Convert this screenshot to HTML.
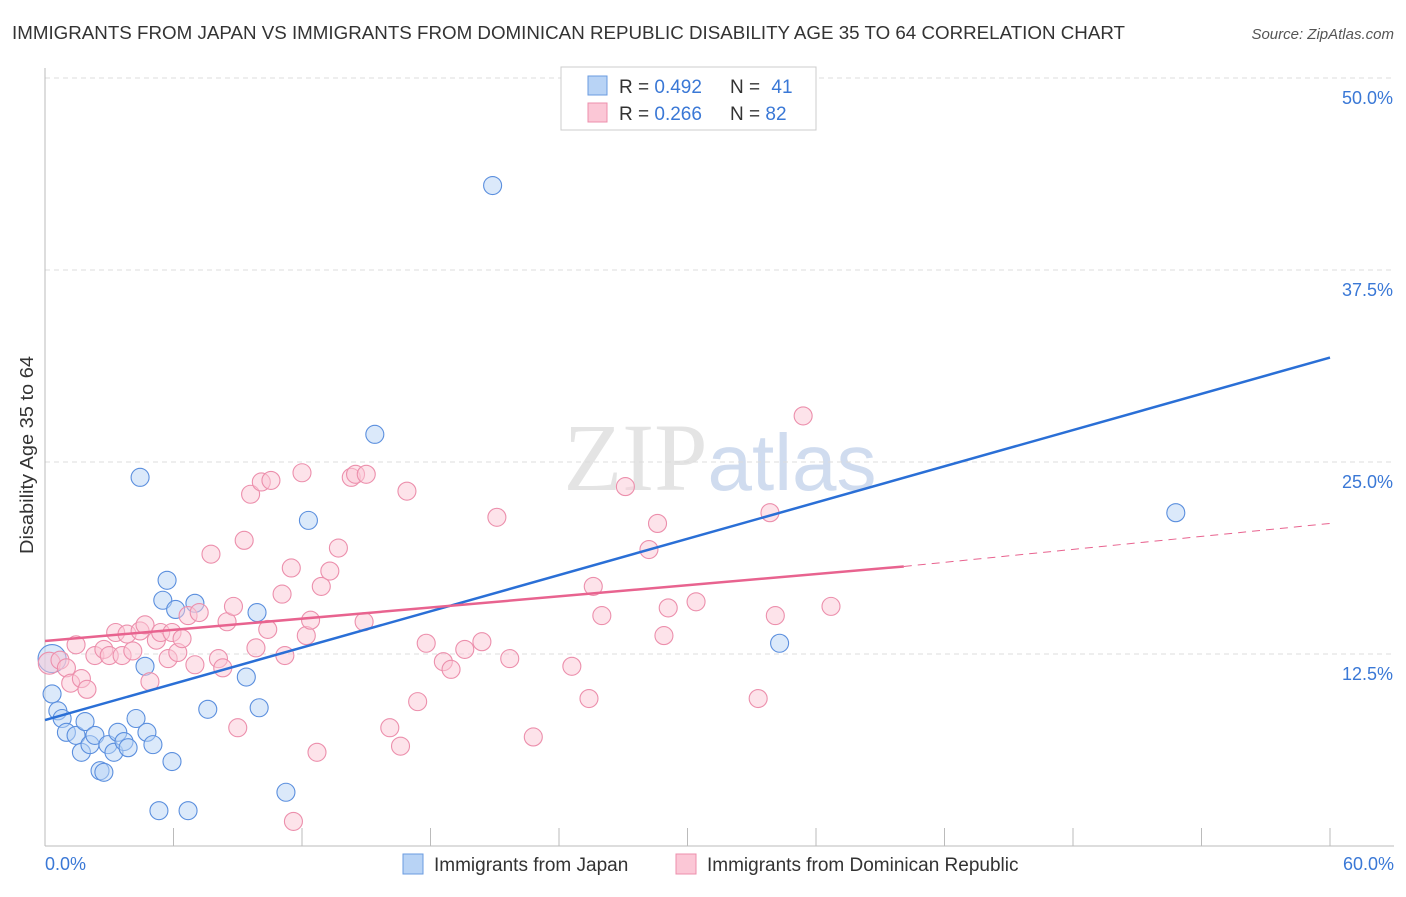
<!DOCTYPE html>
<html><head><meta charset="utf-8"><style>
body{margin:0;background:#fff;font-family:"Liberation Sans",sans-serif}
svg text{font-family:"Liberation Sans",sans-serif}
</style></head><body>
<svg id="chart" width="1406" height="892" xmlns="http://www.w3.org/2000/svg">
<text x="12" y="39" font-size="18.5" fill="#333" textLength="1113" lengthAdjust="spacingAndGlyphs">IMMIGRANTS FROM JAPAN VS IMMIGRANTS FROM DOMINICAN REPUBLIC DISABILITY AGE 35 TO 64 CORRELATION CHART</text>
<text x="1394" y="39" font-size="15" fill="#555" text-anchor="end" font-style="italic">Source: ZipAtlas.com</text>
<text x="720" y="490" font-size="96" text-anchor="middle" fill="#e4e4e4"><tspan font-family="Liberation Serif">ZIP</tspan><tspan fill="#d0dcef" font-size="80">atlas</tspan></text>
<g id="grid"></g>
<g id="axes"></g>
<g id="marks"></g>
<text transform="translate(33,455) rotate(-90)" font-size="18" fill="#333" text-anchor="middle" textLength="198" lengthAdjust="spacingAndGlyphs">Disability Age 35 to 64</text>
<g>
<rect x="561" y="67" width="255" height="63" fill="#fff" stroke="#ccc"/>
<rect x="588" y="76" width="19" height="19" fill="#b8d3f5" stroke="#6a9be0"/>
<rect x="588" y="103" width="19" height="19" fill="#fbc7d6" stroke="#ec8fac"/>
<text x="619" y="93" font-size="19" fill="#333">R = <tspan fill="#3a78d6">0.492</tspan></text>
<text x="730" y="93" font-size="19" fill="#333">N = <tspan fill="#3a78d6" dx="6">41</tspan></text>
<text x="619" y="120" font-size="19" fill="#333">R = <tspan fill="#3a78d6">0.266</tspan></text>
<text x="730" y="120" font-size="19" fill="#333">N = <tspan fill="#3a78d6">82</tspan></text>
</g>
<g>
<rect x="403" y="854" width="20" height="20" fill="#b8d3f5" stroke="#6a9be0"/>
<text x="434" y="871" font-size="19" fill="#333">Immigrants from Japan</text>
<rect x="676" y="854" width="20" height="20" fill="#fbc7d6" stroke="#ec8fac"/>
<text x="707" y="871" font-size="19" fill="#333">Immigrants from Dominican Republic</text>
</g>
</svg>
<script>
const japanX=[0.33,0.33,0.6,0.8,1.0,1.45,1.87,1.7,2.1,2.33,2.57,2.75,2.94,3.22,3.4,3.69,3.88,4.25,4.44,4.67,4.76,5.04,5.32,5.5,5.7,5.93,6.1,6.68,7.0,7.6,9.4,9.9,10.0,11.25,12.3,15.4,20.9,34.3,52.8];
const japanY=[12.2,9.9,8.8,8.3,7.4,7.2,8.1,6.1,6.6,7.2,4.9,4.8,6.6,6.1,7.4,6.8,6.4,8.3,24.0,11.7,7.4,6.6,2.3,16.0,17.3,5.5,15.4,2.3,15.8,8.9,11.0,15.2,9.0,3.5,21.2,26.8,43.0,13.2,21.7];
const domX=[0.2,0.7,1.0,1.45,1.2,1.7,1.96,2.33,2.75,3.0,3.3,3.6,3.83,4.1,4.44,4.67,4.9,5.2,5.4,5.75,5.93,6.2,6.4,6.68,7.0,7.2,7.75,8.1,8.3,8.5,8.8,9.0,9.3,9.6,9.85,10.1,10.4,10.55,11.07,11.2,11.5,11.6,12.0,12.2,12.4,12.7,12.9,13.3,13.7,14.3,14.5,14.9,15.0,16.1,16.6,16.9,17.4,17.8,18.6,18.96,19.6,20.4,21.1,21.7,22.8,24.6,25.4,25.6,26.0,27.1,28.2,28.6,28.9,29.1,30.4,33.3,33.85,34.1,35.4,36.7];
const domY=[11.9,12.1,11.6,13.1,10.6,10.9,10.2,12.4,12.8,12.4,13.9,12.4,13.8,12.7,14.0,14.4,10.7,13.4,13.9,12.2,13.9,12.6,13.5,15.0,11.8,15.2,19.0,12.2,11.6,14.6,15.6,7.7,19.9,22.9,12.9,23.7,14.1,23.8,16.4,12.4,18.1,1.6,24.3,13.7,14.7,6.1,16.9,17.9,19.4,24.0,24.2,14.6,24.2,7.7,6.5,23.1,9.4,13.2,12.0,11.5,12.8,13.3,21.4,12.2,7.1,11.7,9.6,16.9,15.0,23.4,19.3,21.0,13.7,15.5,15.9,9.6,21.7,15.0,28.0,15.6];
const yTicks=[12.5,25.0,37.5,50.0];
const xTickVals=[0,6,12,18,24,30,36,42,48,54,60];
const japanTrend=[[0,8.2],[60,31.8]];
const domTrend=[[0,13.35],[40.1,18.2]];
const domTrendExt=[[40.1,18.2],[60,21.0]];
const NS='http://www.w3.org/2000/svg';
const sx=v=>45+v/60*1285, sy=v=>846-v/12.5*192;
function mk(tag,attrs,parent){const e=document.createElementNS(NS,tag);for(const k in attrs)e.setAttribute(k,attrs[k]);document.getElementById(parent).appendChild(e);return e;}
yTicks.forEach(t=>{
 const g=mk('line',{x1:45,x2:1394,y1:sy(t),y2:sy(t),stroke:'#ddd','stroke-dasharray':'5,4'},'grid');
 
 
 const l=mk('text',{x:1393,y:sy(t)+26,'font-size':18,fill:'#3a78d6','text-anchor':'end'},'axes');
 l.textContent=t.toFixed(1)+'%';
 
 
});
const ax=mk('line',{x1:45,x2:1394,y1:846,y2:846,stroke:'#bbb'},'axes');


const ay=mk('line',{x1:45,x2:45,y1:68,y2:846,stroke:'#bbb'},'axes');


xTickVals.forEach(t=>{if(t===0)return;
 const k=mk('line',{x1:sx(t),x2:sx(t),y1:828,y2:846,stroke:'#bbb'},'axes');
 
 
});
[[0,'0.0%','start',45],[60,'60.0%','end',1394]].forEach(a=>{
 const l=mk('text',{x:a[3],y:870,'font-size':18,fill:'#3a78d6','text-anchor':a[2]},'axes');
 l.textContent=a[1];
 
 
});
function pts(xs,ys,fill,stroke,name){xs.forEach((x,i)=>{
 const c=mk('circle',{cx:sx(x),cy:sy(ys[i]),r:(i===0?(name==='japan-point'?14:11):9),fill:fill,'fill-opacity':0.5,stroke:stroke,'stroke-width':1.1},'marks');
 
 
});}
pts(japanX,japanY,'#b8d3f5','#5b8fde','japan-point');
pts(domX,domY,'#fbc7d6','#ec8fac','dominican-point');
function ln(p,color,dash,name,w){const l=mk('line',{x1:sx(p[0][0]),y1:sy(p[0][1]),x2:sx(p[1][0]),y2:sy(p[1][1]),stroke:color,'stroke-width':w},'marks');
 if(dash)l.setAttribute('stroke-dasharray',dash);
 
 }
ln(japanTrend,'#2a6fd6',null,'japan-trendline',2.5);
ln(domTrend,'#e8638f',null,'dominican-trendline',2.5);
ln(domTrendExt,'#e8638f','8,6','dominican-trendline-extension',1);
</script>
</body></html>
